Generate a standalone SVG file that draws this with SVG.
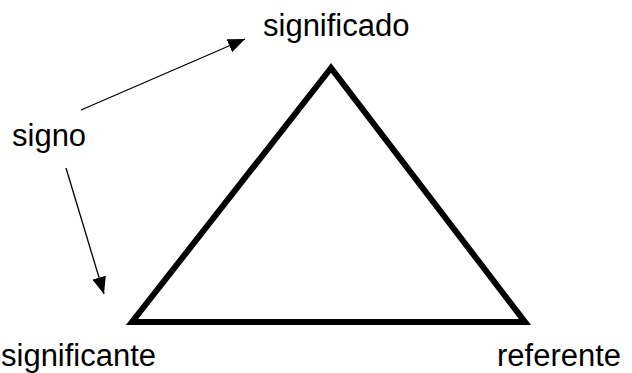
<svg xmlns="http://www.w3.org/2000/svg" width="632" height="373" viewBox="0 0 632 373">
<style>
text{font-family:"Liberation Sans",Arial,sans-serif;font-size:31px;fill:#000}
.c{stroke:#000;stroke-width:1.3;fill:none}
</style>
<defs>
<marker id="ah" markerUnits="userSpaceOnUse" markerWidth="18" markerHeight="14" refX="17" refY="7" orient="auto">
<path d="M0,0 L17,7 L0,14 Z" fill="#000"/>
</marker>
</defs>
<rect width="632" height="373" fill="#fff"/>
<g id="triangle">
<polygon points="331,68 132,322 525,322" fill="none" stroke="#000" stroke-width="6" stroke-linejoin="miter"/>
</g>
<g id="significado"><text x="263" y="36">significado</text></g>
<g id="signo"><text x="12" y="146">signo</text></g>
<g id="significante"><text x="1" y="366">significante</text></g>
<g id="referente"><text x="497" y="366">referente</text></g>
<g id="connectors">
<line class="c" x1="81" y1="110" x2="245" y2="39" marker-end="url(#ah)"/>
<line class="c" x1="66" y1="168" x2="104" y2="294" marker-end="url(#ah)"/>
</g>
</svg>
